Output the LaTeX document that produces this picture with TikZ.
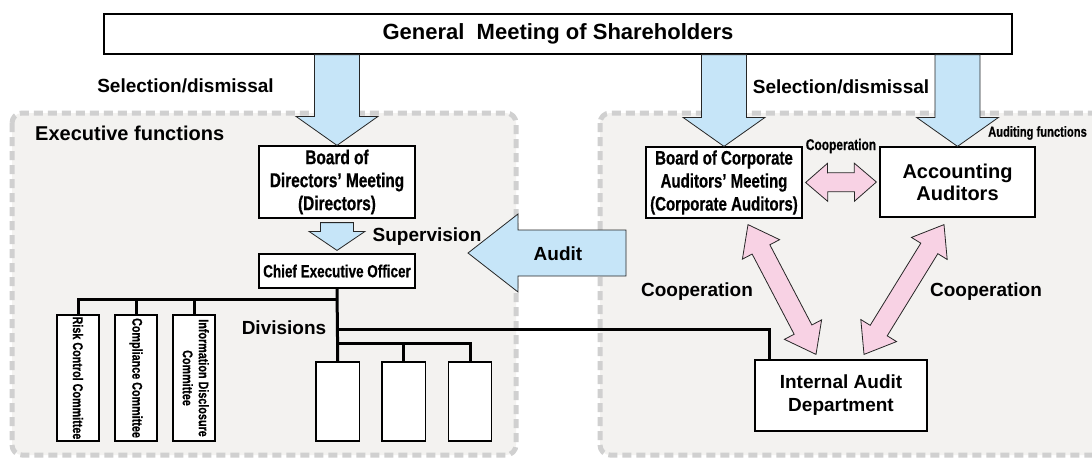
\documentclass[tikz,border=0pt]{standalone}
\usepackage{fontspec}
\setmainfont{Liberation Sans}
\newfontfamily\condfont[FakeStretch=0.77,FakeBold=0.6]{Liberation Sans}
\usetikzlibrary{calc}

\definecolor{regionfill}{RGB}{243,242,240}
\definecolor{regionline}{RGB}{208,208,208}
\definecolor{arrowblue}{RGB}{198,229,248}
\definecolor{arrowpink}{RGB}{248,210,228}

% Block arrow: #1 style, #2 from, #3 to, #4 half shaft width, #5 half head width, #6 head length
\newcommand\blockarrow[6]{%
  \path[#1] let \p1=(#2), \p2=(#3),
    \n1={atan2(\y2-\y1,\x2-\x1)}, \n2={veclen(\x2-\x1,\y2-\y1)} in
    [shift={(\p1)}, rotate=\n1]
    (0pt,#4pt) -- ({\n2-#6pt},#4pt) -- ({\n2-#6pt},#5pt) -- (\n2,0pt)
    -- ({\n2-#6pt},-#5pt) -- ({\n2-#6pt},-#4pt) -- (0pt,-#4pt) -- cycle;}

% Double-headed block arrow, same arguments
\newcommand\dblarrow[6]{%
  \path[#1] let \p1=(#2), \p2=(#3),
    \n1={atan2(\y2-\y1,\x2-\x1)}, \n2={veclen(\x2-\x1,\y2-\y1)} in
    [shift={(\p1)}, rotate=\n1]
    (0pt,0pt) -- (#6pt,#5pt) -- (#6pt,#4pt) -- ({\n2-#6pt},#4pt) -- ({\n2-#6pt},#5pt)
    -- (\n2,0pt) -- ({\n2-#6pt},-#5pt) -- ({\n2-#6pt},-#4pt) -- (#6pt,-#4pt)
    -- (#6pt,-#5pt) -- cycle;}

\begin{document}
\begin{tikzpicture}[x=1pt,y=-1pt,
  region/.style={draw=regionline, line width=5pt, dash pattern=on 9pt off 5pt,
    fill=regionfill, rounded corners=10pt},
  box/.style={draw=black, line width=1.2pt, fill=white, inner sep=0pt, align=center},
  cbox/.style={box, font=\condfont\bfseries\fontsize{20}{23}\selectfont},
  comm/.style={box, minimum width=42, minimum height=126,
    font=\condfont\bfseries\fontsize{14}{16}\selectfont},
  divbox/.style={box, minimum width=43.5, minimum height=79},
  lbl/.style={inner sep=0pt, font=\bfseries\fontsize{19}{22}\selectfont},
  small/.style={inner sep=0pt, font=\condfont\bfseries\fontsize{14.5}{16}\selectfont},
  bus/.style={line width=3pt},
  bluearrow/.style={fill=arrowblue, draw=black!85, line width=0.8pt},
  pinkarrow/.style={fill=arrowpink, draw=black!85, line width=0.8pt},
]
\useasboundingbox (0,0) rectangle (1092,459);

% the two functional areas
\path[region] (12,113) rectangle (516,455);
\path[region] (600,113) rectangle (1120,455);

% shareholders
\node[box, minimum width=908, minimum height=40,
  font=\bfseries\fontsize{22}{26}\selectfont] (gms) at (558,34) {General~~Meeting of Shareholders};

% executive side
\node[cbox, minimum width=156, minimum height=72] (bod) at (337,182)
  {Board of\\Directors’ Meeting\\(Directors)};
\node[cbox, minimum width=156, minimum height=34,
  font=\condfont\bfseries\fontsize{17.5}{20}\selectfont] (ceo) at (337,271) {Chief Executive Officer};

\node[comm] (c1) at (78,378) {\rotatebox{-90}{Risk Control Committee}};
\node[comm] (c2) at (136,378) {\rotatebox{-90}{Compliance Committee}};
\node[comm] (c3) at (194,378)
  {\rotatebox{-90}{\begin{tabular}{@{}c@{}}Information Disclosure\\Committee\end{tabular}}};

\node[divbox] (d1) at (337.75,401.5) {};
\node[divbox] (d2) at (403.8,401.5) {};
\node[divbox] (d3) at (470,401.5) {};

% auditing side
\node[cbox, minimum width=156, minimum height=71,
  font=\condfont\bfseries\fontsize{19.5}{23}\selectfont] (boca) at (724,182.5)
  {Board of Corporate\\Auditors’ Meeting\\(Corporate Auditors)};
\node[box, minimum width=155, minimum height=70,
  font=\bfseries\fontsize{20}{22}\selectfont] (aa) at (957.5,182) {Accounting\\Auditors};
\node[box, minimum width=172, minimum height=71,
  font=\bfseries\fontsize{19}{23}\selectfont] (iad) at (841,395.5) {Internal Audit\\Department};

% reporting lines
\coordinate (bus1) at (337,299);
\coordinate (bus2) at (337,329);
\coordinate (bus3) at (337,343);
\draw[bus] (ceo.south) -- (d1.north);
\draw[bus] (c1.north) |- (bus1);
\draw[bus] (c2.north) -- (c2.north |- bus1);
\draw[bus] (c3.north) -- (c3.north |- bus1);
\draw[bus] (bus2) -| ($(iad.north west)+(15.5,0)$);
\draw[bus] (bus3) -| (d3.north);
\draw[bus] (d2.north) -- (d2.north |- bus3);

% selection / dismissal
\blockarrow{bluearrow}{$(gms.south -| bod.north)$}{bod.north}{22.5}{41}{29}
\blockarrow{bluearrow}{$(gms.south -| boca.north)$}{boca.north}{22.5}{41}{29}
\blockarrow{bluearrow}{$(gms.south -| aa.north)$}{aa.north}{22.5}{41}{29}

% supervision
\blockarrow{bluearrow}{$(bod.south)+(0,4)$}{$(ceo.north)+(0,-3)$}{16.5}{28}{19}

% audit
\coordinate (auditfrom) at (626,253);
\coordinate (auditto) at (468,253);
\blockarrow{bluearrow}{auditfrom}{auditto}{23}{39}{50}

% cooperation
\dblarrow{pinkarrow}{$(boca.east)+(3,0)$}{$(aa.west)+(-3,0)$}{9.5}{19}{22}
\dblarrow{pinkarrow}{$(boca.south)+(24,6)$}{$(iad.north)+(-25,-5)$}{10}{21}{28}
\dblarrow{pinkarrow}{$(aa.south)+(-13.5,7)$}{$(iad.north)+(23,-5)$}{10}{21}{28}

% labels
\node[lbl] (sel1) at (185.5,86) {Selection/dismissal};
\node[lbl] (sel2) at (841,87) {Selection/dismissal};
\node[lbl, font=\bfseries\fontsize{20}{24}\selectfont, anchor=west] (exec) at (35,133) {Executive functions};
\node[lbl, anchor=west] (sup) at (372.5,237) {Supervision};
\node[lbl] (div) at (284,328) {Divisions};
\node[lbl] (audit) at (558,254) {Audit};
\node[lbl] (coop1) at (697,292) {Cooperation};
\node[lbl] (coop2) at (986,292) {Cooperation};
\node[small, font=\condfont\bfseries\fontsize{15.5}{17}\selectfont] (coop3) at (841,146) {Cooperation};
\node[small] (audf) at (1037.5,133) {Auditing functions};
\end{tikzpicture}
\end{document}
